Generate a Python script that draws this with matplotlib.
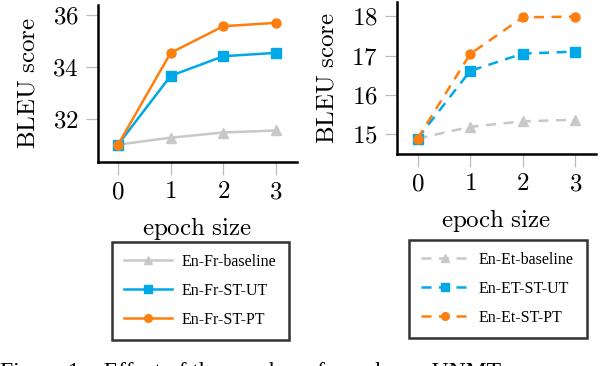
import matplotlib

matplotlib.use("Agg")

import matplotlib.pyplot as plt

epochs = [0, 1, 2, 3]

fr_baseline = [31.0, 31.27, 31.47, 31.55]
fr_st_ut = [31.0, 33.66, 34.42, 34.55]
fr_st_pt = [31.0, 34.55, 35.58, 35.71]

et_baseline = [14.89, 15.19, 15.33, 15.37]
et_st_ut = [14.89, 16.61, 17.05, 17.10]
et_st_pt = [14.89, 17.04, 17.97, 17.99]

fr_labels = ["En-Fr-baseline", "En-Fr-ST-UT", "En-Fr-ST-PT"]
et_labels = ["En-Et-baseline", "En-ET-ST-UT", "En-Et-ST-PT"]

GREY = "#c8c8c8"
BLUE = "#00a8e8"
ORANGE = "#ff7f0e"

plt.rcParams["font.family"] = "Liberation Serif"
plt.rcParams["mathtext.fontset"] = "cm"

W, H = 608, 366
fig = plt.figure(figsize=(W / 100, H / 100), dpi=100)


def px_axes(x0, y0, x1, y1):
    return fig.add_axes([x0 / W, 1 - y1 / H, (x1 - x0) / W, (y1 - y0) / H])


def style(ax, ylim, xlim, yticks):
    ax.set_xlim(*xlim)
    ax.set_ylim(*ylim)
    ax.set_xticks(epochs)
    ax.set_xticklabels([f"${e}$" for e in epochs])
    ax.set_yticks(yticks)
    ax.set_yticklabels([f"${t}$" for t in yticks])
    for side in ("top", "right"):
        ax.spines[side].set_visible(False)
    for side in ("left", "bottom"):
        ax.spines[side].set_linewidth(1.8)
    ax.tick_params(axis="both", color="#bbbbbb", width=0.9, length=9,
                   labelsize=18, pad=5)
    ax.set_xlabel(r"$\mathrm{epoch\ size}$", fontsize=18, labelpad=8)
    ax.set_ylabel(r"$\mathrm{BLEU\ score}$", fontsize=18, labelpad=9)


def draw(ax, series, labels, ls):
    markers = ["^", "s", "o"]
    colors = [GREY, BLUE, ORANGE]
    handles = []
    for vals, lab, m, c in zip(series, labels, markers, colors):
        (h,) = ax.plot(epochs, vals, ls=ls, color=c, marker=m, markersize=6.5,
                       lw=1.8, label=lab, clip_on=False, zorder=3)
        handles.append(h)
    return handles


ax1 = px_axes(98, 5, 297, 162)
h1 = draw(ax1, [fr_baseline, fr_st_ut, fr_st_pt], fr_labels, "-")
style(ax1, (30.33, 36.4), (-0.38, 3.4), [32, 34, 36])

ax2 = px_axes(397, 2, 596, 154)
h2 = draw(ax2, [et_baseline, et_st_ut, et_st_pt], et_labels, (0, (4, 3)))
style(ax2, (14.5, 18.36), (-0.39, 3.39), [15, 16, 17, 18])


def legend(handles, x0, y0, x1, y1):
    lg = fig.legend(handles=handles, loc="upper left",
                    bbox_to_anchor=(x0 / W, 1 - y1 / H, (x1 - x0) / W, (y1 - y0) / H),
                    mode="expand", frameon=True, fancybox=False,
                    edgecolor="black", fontsize=11.5, handlelength=3.0,
                    handletextpad=0.6, labelspacing=0.8, borderpad=0.75,
                    borderaxespad=0)
    lg.get_frame().set_linewidth(1.8)
    for h in lg.legend_handles:
        h.set_markersize(5.5)
    return lg


legend(h1, 112, 242, 289, 332)
legend(h2, 409, 240, 587, 331)

fig.text(0.0, 1 - 362 / H, "Figure 1:   Effect of the number of epochs on UNMT",
         fontsize=17, va="top", ha="left")

fig.savefig("out.png", dpi=100)
